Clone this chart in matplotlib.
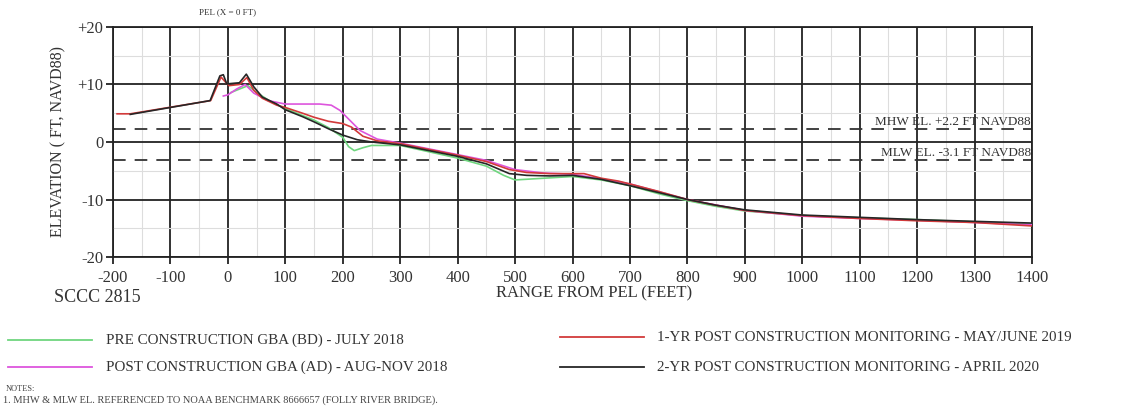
import matplotlib
matplotlib.use("Agg")
import matplotlib.pyplot as plt
from matplotlib.lines import Line2D

plt.rcParams['font.family'] = ['Liberation Serif', 'DejaVu Serif']
plt.rcParams['axes.unicode_minus'] = False

# survey profiles, range from PEL (ft) vs elevation (ft NAVD88)
pre_x = [5, 20, 35, 50, 75, 100, 125, 150, 175, 200, 210, 220, 235, 250, 300, 350, 400,
         450, 480, 500, 550, 600, 650, 700, 750, 800, 850, 900, 1000, 1100, 1200, 1300, 1400]
pre_y = [8.6, 9.2, 9.8, 8.6, 7.0, 5.8, 4.8, 3.8, 2.5, 0.8, -0.8, -1.5, -1.0, -0.6, -0.6, -1.7, -2.8,
         -4.2, -5.8, -6.6, -6.3, -6.0, -6.6, -7.6, -9.0, -10.2, -11.2, -12.0, -12.8, -13.2, -13.5, -13.9, -14.3]

post_x = [-8, 0, 15, 30, 45, 70, 100, 130, 160, 180, 195, 213, 230, 260, 300, 350, 400,
          450, 500, 550, 600, 650, 700, 800, 900, 1000, 1100, 1200, 1300, 1400]
post_y = [8.0, 8.2, 9.2, 10.0, 8.5, 7.2, 6.6, 6.6, 6.6, 6.4, 5.5, 3.7, 2.0, 0.5, -0.2, -1.2, -2.2,
          -3.2, -4.8, -5.4, -5.6, -6.4, -7.3, -10.0, -11.9, -12.9, -13.3, -13.6, -14.0, -14.4]

yr1_x = [-193, -170, -30, -12, -5, 2, 20, 33, 45, 60, 85, 100, 130, 150, 175, 200, 215, 235, 260,
         300, 350, 400, 450, 490, 520, 560, 620, 650, 680, 700, 750, 800, 850, 900, 1000, 1100,
         1200, 1300, 1400]
yr1_y = [4.9, 4.9, 7.2, 11.3, 10.5, 9.8, 10.0, 11.2, 9.0, 7.6, 6.4, 6.0, 5.0, 4.3, 3.6, 3.2, 2.6, 1.0, 0.2,
         -0.3, -1.3, -2.3, -3.4, -4.8, -5.3, -5.5, -5.5, -6.3, -6.8, -7.3, -8.6, -10.0, -11.0, -11.9, -12.8, -13.3,
         -13.7, -14.0, -14.6]

yr2_x = [-170, -31, -14, -8, -2, 20, 32, 45, 60, 85, 100, 130, 150, 175, 200, 225, 250, 300, 350,
         400, 450, 490, 520, 560, 600, 650, 700, 750, 800, 850, 900, 1000, 1100, 1200, 1300, 1400]
yr2_y = [4.8, 7.2, 11.5, 11.7, 10.1, 10.3, 11.8, 9.6, 7.8, 6.6, 5.6, 4.4, 3.5, 2.3, 1.2, 0.4, 0.0, -0.5, -1.5,
         -2.5, -3.8, -5.5, -5.8, -5.9, -5.8, -6.5, -7.6, -8.8, -10.0, -11.0, -11.8, -12.7, -13.1, -13.5, -13.8, -14.1]

labels = ["PRE CONSTRUCTION GBA (BD) - JULY 2018",
          "POST CONSTRUCTION GBA (AD) - AUG-NOV 2018",
          "1-YR POST CONSTRUCTION MONITORING - MAY/JUNE 2019",
          "2-YR POST CONSTRUCTION MONITORING - APRIL 2020"]
colors = ["#6fd67f", "#dd55dd", "#d23a3a", "#262626"]

mhw = 2.2
mlw = -3.1

fig = plt.figure(figsize=(11.35, 4.12), dpi=100)
ax = fig.add_axes([0.0996, 0.3762, 0.8097, 0.5583])

series = [(pre_x, pre_y), (post_x, post_y), (yr1_x, yr1_y), (yr2_x, yr2_y)]
for (xs, ys), c in zip(series, colors):
    ax.plot(xs, ys, color=c, lw=1.2, zorder=3)

ax.axhline(mhw, color="#333333", lw=1.3, ls=(0, (7, 5)), zorder=2)
ax.axhline(mlw, color="#333333", lw=1.3, ls=(0, (7, 5)), zorder=2)
ax.text(1398, mhw + 0.2, "MHW EL. +2.2 FT NAVD88", ha="right", va="bottom", fontsize=9.5, color="#333333")
ax.text(1398, mlw + 0.2, "MLW EL. -3.1 FT NAVD88", ha="right", va="bottom", fontsize=9.5, color="#333333")

ax.set_xlim(-200, 1400)
ax.set_ylim(-20, 20)
ax.set_xticks(range(-200, 1401, 100))
ax.set_xticks(range(-150, 1400, 100), minor=True)
ax.set_yticks([-20, -10, 0, 10, 20])
ax.set_yticks([-15, -5, 5, 15], minor=True)
ax.set_yticklabels(["-20", "-10", "0", "+10", "+20"])
ax.grid(which="major", color="#222222", lw=1.3)
ax.grid(which="minor", color="#dddddd", lw=0.8)
ax.set_axisbelow(True)
for s in ax.spines.values():
    s.set_color("#222222")
    s.set_linewidth(1.3)
ax.tick_params(which="major", direction="out", length=5, width=1.3, color="#222222",
               labelsize=12, labelcolor="#333333")
ax.tick_params(axis="x", which="major", pad=4)
ax.tick_params(axis="y", which="major", pad=2)
ax.tick_params(which="minor", length=0)

ax.set_ylabel("ELEVATION ( FT, NAVD88)", fontsize=11.5, color="#333333", labelpad=8)
ax.set_xlabel("RANGE FROM PEL (FEET)", fontsize=12, color="#333333")
ax.xaxis.set_label_coords(0.523, -0.125)
ax.text(0, 1.045, "PEL (X = 0 FT)", transform=ax.get_xaxis_transform(), ha="center", va="bottom",
        fontsize=6.5, color="#333333")

fig.text(0.048, 0.279, "SCCC 2815", fontsize=13, color="#333333", va="center")

# legend drawn by hand in two columns
leg_pos = [(0.007, 0.175), (0.007, 0.109), (0.493, 0.181), (0.493, 0.109)]
for (lx, ly), lab, c in zip(leg_pos, labels, colors):
    fig.add_artist(Line2D([lx, lx + 0.074], [ly, ly], color=c, lw=1.3, transform=fig.transFigure))
    fig.text(lx + 0.086, ly, lab, fontsize=10.8, color="#333333", va="center")

fig.text(0.005, 0.056, "NOTES:", fontsize=6, color="#444444", va="center")
fig.text(0.003, 0.029, "1. MHW & MLW EL. REFERENCED TO NOAA BENCHMARK 8666657 (FOLLY RIVER BRIDGE).",
         fontsize=7.5, color="#444444", va="center")

fig.savefig("out.png", dpi=100)
